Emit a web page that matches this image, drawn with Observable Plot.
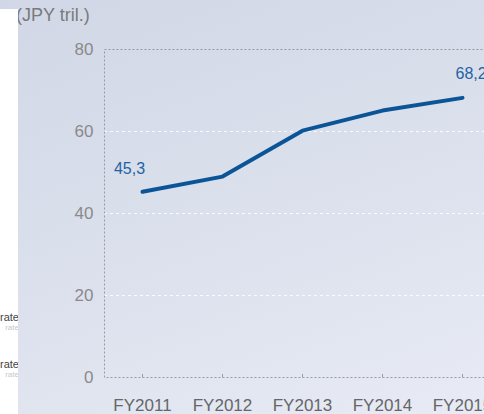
<!DOCTYPE html>
<html>
<head>
<meta charset="utf-8">
<script src="https://cdn.jsdelivr.net/npm/d3@7"></script>
<script src="https://cdn.jsdelivr.net/npm/@observablehq/plot@0.6"></script>
<style>
  html, body { margin: 0; padding: 0; }
  body { width: 484px; height: 414px; overflow: hidden; position: relative;
         background: linear-gradient(160deg, #d1d7e6 0%, #dce1ed 55%, #e8ebf5 100%);
         font-family: "Liberation Sans", Arial, sans-serif; }
  #chart { position: absolute; left: 0; top: 0; }
  #unit { position: absolute; left: 16px; top: 5px; font-size: 18px; color: #7a7a7a; }
  #strip { position: absolute; left: 0; top: 9px; width: 18px; height: 405px; background: #ffffff; overflow: hidden; }
  .leg { position: absolute; right: -1px; font-size: 11px; color: #444; white-space: nowrap; text-align: right; }
  .leg small { display: block; font-size: 8px; color: #c8c8c8; }
</style>
</head>
<body>
<div id="unit">(JPY tril.)</div>
<div id="chart"></div>
<div id="strip">
  <div class="leg" style="top:302px">rate<small>rate</small></div>
  <div class="leg" style="top:349px">rate<small>rate</small></div>
</div>
<script>
const years = ["FY2011", "FY2012", "FY2013", "FY2014", "FY2015"];
const yearNums = [2011, 2012, 2013, 2014, 2015];
const values = [45.3, 49.0, 60.2, 65.1, 68.2];
const labelIdx = [0, 4];
const labelText = ["45,3", "68,2"];
const yTicks = [0, 20, 40, 60, 80];
const gridTicks = [20, 40, 60];

const data = yearNums.map((x, i) => ({x, v: values[i], name: years[i]}));

const chart = Plot.plot({
  width: 484,
  height: 414,
  marginLeft: 104,
  marginRight: -2,
  marginTop: 49,
  marginBottom: 37,
  style: {background: "transparent", fontFamily: "'Liberation Sans', Arial, sans-serif", overflow: "visible"},
  x: {type: "linear", domain: [2010.525, 2015.3]},
  y: {domain: [0, 80]},
  marks: [
    Plot.ruleY(gridTicks, {stroke: "#ffffff", strokeOpacity: 0.85, strokeDasharray: "3,3", strokeWidth: 1}),
    Plot.frame({stroke: "#9a9a9a", strokeDasharray: "2,2", strokeWidth: 1}),
    Plot.axisY({ticks: yTicks, tickSize: 0, tickPadding: 11, fontSize: 17, fill: "#8a8a8a", label: null}),
    Plot.axisX({ticks: yearNums, tickFormat: (d) => years[yearNums.indexOf(d)], tickSize: -3, stroke: "#9a9a9a",
                tickPadding: 24, fontSize: 17, fill: "#666", label: null}),
    Plot.line(data, {x: "x", y: "v", stroke: "#0b5597", strokeWidth: 4, curve: "linear"}),
    Plot.text([data[labelIdx[0]]], {x: "x", y: "v", text: () => labelText[0], dx: -13, dy: -23, fontSize: 16, fill: "#2463a3"}),
    Plot.text([data[labelIdx[1]]], {x: "x", y: "v", text: () => labelText[1], dx: -7, dy: -24, textAnchor: "start", fontSize: 16, fill: "#2463a3"})
  ]
});
document.getElementById("chart").appendChild(chart);
</script>
</body>
</html>
